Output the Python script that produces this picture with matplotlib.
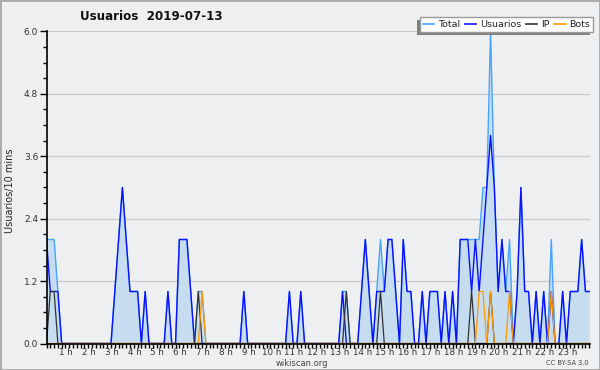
import matplotlib
matplotlib.use("Agg")
import matplotlib.pyplot as plt
import numpy as np
from matplotlib.patches import Rectangle
from matplotlib.lines import Line2D
from matplotlib.transforms import ScaledTranslation, IdentityTransform

# 10-minute slots, one row per hour (6 values each)
total = [
    2, 2, 2, 1, 0, 0,   # 0h
    0, 0, 0, 0, 0, 0,   # 1h
    0, 0, 0, 0, 0, 0,   # 2h
    1, 2, 3, 2, 1, 1,   # 3h
    1, 0, 1, 0, 0, 0,   # 4h
    0, 0, 1, 0, 0, 2,   # 5h
    2, 2, 1, 0, 1, 1,   # 6h
    0, 0, 0, 0, 0, 0,   # 7h
    0, 0, 0, 0, 1, 0,   # 8h
    0, 0, 0, 0, 0, 0,   # 9h
    0, 0, 0, 0, 1, 0,   # 10h
    0, 1, 0, 0, 0, 0,   # 11h
    0, 0, 0, 0, 0, 0,   # 12h
    1, 1, 0, 0, 0, 1,   # 13h
    2, 1, 0, 1, 2, 1,   # 14h
    2, 2, 1, 0, 2, 1,   # 15h
    1, 0, 0, 1, 0, 1,   # 16h
    1, 1, 0, 1, 0, 1,   # 17h
    0, 2, 2, 2, 2, 2,   # 18h
    2, 3, 3, 6, 3, 1,   # 19h
    2, 1, 2, 0, 1, 3,   # 20h
    1, 1, 0, 1, 0, 1,   # 21h
    0, 2, 0, 0, 1, 0,   # 22h
    1, 1, 1, 2, 1, 1,   # 23h
]
usuarios = [
    2, 1, 1, 1, 0, 0,
    0, 0, 0, 0, 0, 0,
    0, 0, 0, 0, 0, 0,
    1, 2, 3, 2, 1, 1,
    1, 0, 1, 0, 0, 0,
    0, 0, 1, 0, 0, 2,
    2, 2, 1, 0, 0, 0,
    0, 0, 0, 0, 0, 0,
    0, 0, 0, 0, 1, 0,
    0, 0, 0, 0, 0, 0,
    0, 0, 0, 0, 1, 0,
    0, 1, 0, 0, 0, 0,
    0, 0, 0, 0, 0, 0,
    1, 0, 0, 0, 0, 1,
    2, 1, 0, 1, 1, 1,
    2, 2, 1, 0, 2, 1,
    1, 0, 0, 1, 0, 1,
    1, 1, 0, 1, 0, 1,
    0, 2, 2, 2, 1, 2,
    1, 2, 3, 4, 3, 1,
    2, 1, 1, 0, 1, 3,
    1, 1, 0, 1, 0, 1,
    0, 1, 0, 0, 1, 0,
    1, 1, 1, 2, 1, 1,
]
ip = [
    0, 1, 1, 0, 0, 0,
    0, 0, 0, 0, 0, 0,
    0, 0, 0, 0, 0, 0,
    0, 0, 0, 0, 0, 0,
    0, 0, 0, 0, 0, 0,
    0, 0, 0, 0, 0, 0,
    0, 0, 0, 0, 1, 0,
    0, 0, 0, 0, 0, 0,
    0, 0, 0, 0, 0, 0,
    0, 0, 0, 0, 0, 0,
    0, 0, 0, 0, 0, 0,
    0, 0, 0, 0, 0, 0,
    0, 0, 0, 0, 0, 0,
    0, 1, 0, 0, 0, 0,
    0, 0, 0, 0, 1, 0,
    0, 0, 0, 0, 0, 0,
    0, 0, 0, 0, 0, 0,
    0, 0, 0, 0, 0, 0,
    0, 0, 0, 0, 1, 0,
    0, 0, 0, 1, 0, 0,
    0, 0, 0, 0, 0, 0,
    0, 0, 0, 0, 0, 0,
    0, 0, 0, 0, 0, 0,
    0, 0, 0, 0, 0, 0,
]
bots = [
    0, 0, 0, 0, 0, 0,
    0, 0, 0, 0, 0, 0,
    0, 0, 0, 0, 0, 0,
    0, 0, 0, 0, 0, 0,
    0, 0, 0, 0, 0, 0,
    0, 0, 0, 0, 0, 0,
    0, 0, 0, 0, 0, 1,
    0, 0, 0, 0, 0, 0,
    0, 0, 0, 0, 0, 0,
    0, 0, 0, 0, 0, 0,
    0, 0, 0, 0, 0, 0,
    0, 0, 0, 0, 0, 0,
    0, 0, 0, 0, 0, 0,
    0, 0, 0, 0, 0, 0,
    0, 0, 0, 0, 0, 0,
    0, 0, 0, 0, 0, 0,
    0, 0, 0, 0, 0, 0,
    0, 0, 0, 0, 0, 0,
    0, 0, 0, 0, 0, 0,
    1, 1, 0, 1, 0, 0,
    0, 0, 1, 0, 0, 0,
    0, 0, 0, 0, 0, 0,
    0, 1, 0, 0, 0, 0,
    0, 0, 0, 0, 0, 0,
]
hour_labels = ["%d h" % h for h in range(1, 24)]
ytick_vals = [0.0, 1.2, 2.4, 3.6, 4.8, 6.0]
series_names = ["Total", "Usuarios", "IP", "Bots"]
title = "Usuarios  2019-07-13"

BG = "#eeeff1"
C_TOTAL = "#48a4fb"
C_FILL = "#c6ddf0"
C_USR = "#0a12ff"
C_IP = "#333333"
C_BOTS = "#ff9a00"

W, H = 600, 370
fig = plt.figure(figsize=(W / 100, H / 100), dpi=100)
fig.patch.set_facecolor(BG)

x0, x1 = 46.5, 590.0
ytop, ybot = 31.5, 343.5
ax = fig.add_axes([x0 / W, (H - ybot) / H, (x1 - x0) / W, (ybot - ytop) / H])
ax.set_facecolor(BG)

x = np.arange(len(total))
ax.fill_between(x, total, 0, color=C_FILL, lw=0, zorder=1)
ax.plot(x, total, color=C_TOTAL, lw=1.0, zorder=2)
ax.plot(x, usuarios, color=C_USR, lw=1.0, zorder=3)
ax.plot(x, ip, color=C_IP, lw=0.9, zorder=4)
ax.plot(x, bots, color=C_BOTS, lw=0.9, zorder=5)

ax.set_xlim(0, 143.2)
ax.set_ylim(0, 6.0)

for s in ("top", "right"):
    ax.spines[s].set_visible(False)
for s in ("left", "bottom"):
    ax.spines[s].set_color("black")
    ax.spines[s].set_linewidth(1.2)
    ax.spines[s].set_zorder(6)

ax.set_yticks(ytick_vals)
ax.set_yticklabels(["%.1f" % v for v in ytick_vals])
ax.set_yticks(np.arange(0, 6.01, 0.3), minor=True)
ax.yaxis.grid(True, which="major", color="#c8c8c8", lw=0.9, zorder=0)
ax.set_axisbelow(True)

ax.set_xticks(np.arange(6, 144, 6)[:23])
ax.set_xticklabels(hour_labels)
ax.set_xticks(np.arange(0, 144), minor=True)

ax.tick_params(axis="y", which="major", length=5, width=1, color="black",
               labelsize=6.5, labelcolor="#333333", pad=1)
ax.tick_params(axis="y", which="minor", length=3, width=1, color="black")
ax.tick_params(axis="x", which="both", length=3, width=1, color="black",
               labelsize=6.3, labelcolor="#333333", pad=0.5)
off = ScaledTranslation(-3 / 100, 0, fig.dpi_scale_trans)
for lab in ax.get_xticklabels():
    lab.set_transform(lab.get_transform() + off)

fig.text(151 / W, 1 - 16.5 / H, title, ha="center", va="center",
         fontsize=8.6, fontweight="bold", color="#111111")
fig.text(10 / W, 1 - 191 / H, "Usuarios/10 mins", rotation=90,
         ha="center", va="center", fontsize=7, color="#222222")
fig.text(302 / W, 1 - 363 / H, "wikiscan.org", ha="center", va="center",
         fontsize=6, color="#444444")
fig.text(567 / W, 1 - 363 / H, "CC BY-SA 3.0", ha="center", va="center",
         fontsize=4.8, color="#444444")

handles = [Line2D([], [], color=c, lw=1.2) for c in (C_TOTAL, C_USR, C_IP, C_BOTS)]
leg = fig.legend(handles, series_names, loc="upper right",
                 bbox_to_anchor=(593 / W, 1 - 17 / H), bbox_transform=fig.transFigure,
                 ncol=4, fontsize=6.8, handlelength=1.2, handletextpad=0.4,
                 columnspacing=0.5, borderpad=0.3, borderaxespad=0,
                 fancybox=False, framealpha=1, facecolor="white",
                 edgecolor="#999999")
leg.get_frame().set_linewidth(1.0)
leg.set_zorder(10)
for t in leg.get_texts():
    t.set_color("#222222")

fig.canvas.draw()
bb = leg.get_window_extent()
shadow = Rectangle((bb.x0 - 3, bb.y0 - 3), bb.width, bb.height,
                   transform=IdentityTransform(), facecolor="#808080",
                   edgecolor="none", zorder=9)
fig.add_artist(shadow)

fig.add_artist(Rectangle((0, 0), 1, 1, transform=fig.transFigure, fill=False,
                         edgecolor="#aaaaaa", lw=2, zorder=20))

fig.savefig("out.png", dpi=100, facecolor=BG)
